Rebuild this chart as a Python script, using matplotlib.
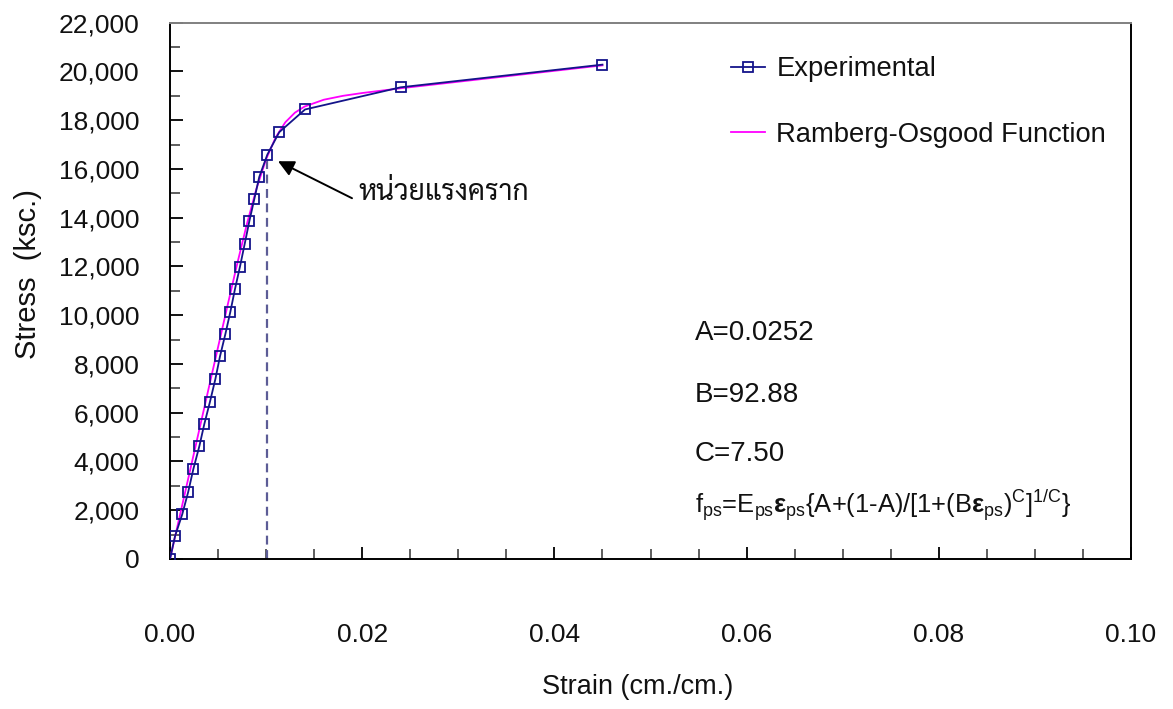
import matplotlib
matplotlib.use("Agg")
import matplotlib.pyplot as plt
from matplotlib.ticker import MultipleLocator, FuncFormatter
import logging
logging.getLogger('matplotlib.font_manager').setLevel(logging.ERROR)

# ---------------- data ----------------
exp_strain = [0.0, 0.00052, 0.00128, 0.0019, 0.00243, 0.00305, 0.00357, 0.00416,
              0.00472, 0.0052, 0.00576, 0.00628, 0.00676, 0.00728, 0.00777,
              0.00825, 0.00877, 0.00929, 0.01013, 0.01137, 0.01405, 0.0240, 0.0450]
exp_stress = [0, 930, 1840, 2760, 3690, 4620, 5535, 6450, 7380, 8310, 9225, 10140,
              11070, 11990, 12920, 13845, 14760, 15675, 16590, 17510, 18440, 19350, 20280]

ro_strain = [0.0, 0.002, 0.004, 0.006, 0.007, 0.008, 0.009, 0.010, 0.011, 0.012,
             0.013, 0.014, 0.016, 0.018, 0.020, 0.024, 0.045]
ro_stress = [0, 3480, 6960, 10420, 12120, 13740, 15195, 16400, 17300, 17915,
             18310, 18560, 18840, 19000, 19115, 19310, 20250]

yield_strain = 0.0101
yield_stress = 16590

param_labels = ["A=0.0252", "B=92.88", "C=7.50"]
formula = (r"f$_{\mathrm{ps}}$=E$_{\mathrm{ps}}$$\mathbf{\varepsilon}$$_{\mathrm{ps}}$"
           r"{A+(1-A)/[1+(B$\mathbf{\varepsilon}$$_{\mathrm{ps}}$)$^{\mathrm{C}}$]$^{\mathrm{1/C}}$}")

xticks = [0.00, 0.02, 0.04, 0.06, 0.08, 0.10]
yticks = list(range(0, 22001, 2000))

# ---------------- style ----------------
plt.rcParams['font.family'] = ['Liberation Sans', 'DejaVu Sans']
plt.rcParams['mathtext.fontset'] = 'custom'
plt.rcParams['mathtext.rm'] = 'Liberation Sans'
plt.rcParams['mathtext.it'] = 'Liberation Sans:italic'
plt.rcParams['mathtext.bf'] = 'Liberation Sans:bold'
thai_family = ['Sarabun', 'Noto Sans Thai', 'Anuphan', 'DejaVu Sans']
txt = '#111111'

fig = plt.figure(figsize=(11.73, 7.09), dpi=100)
ax = fig.add_axes([170/1173, 1-559/709, (1131-170)/1173, (559-22.7)/709])

navy = '#14148a'
mag = '#ff00ff'
ax.plot(ro_strain, ro_stress, color=mag, lw=1.3, label='Ramberg-Osgood Function', zorder=3)
ax.plot(exp_strain, exp_stress, color=navy, lw=1.3, marker='s', markersize=6.8,
        markerfacecolor='none', markeredgecolor=navy, markeredgewidth=1.3,
        label='Experimental', zorder=4)

ax.plot([yield_strain, yield_strain], [0, yield_stress], color='#5c5c96',
        lw=1.6, ls=(0, (4, 2.5)), zorder=2)

ax.text(0.01956, 15050, "หน่วยแรงคราก", family=thai_family, fontsize=20.4,
        color=txt, va='center', ha='left')
ax.annotate("", xy=(0.01124, 16318), xytext=(0.01894, 14800),
            arrowprops=dict(arrowstyle='-|>', color='black', lw=1.4,
                            mutation_scale=24, shrinkA=0, shrinkB=0))

ax.set_xlim(0, 0.10)
ax.set_ylim(0, 22000)
ax.set_xticks(xticks)
ax.xaxis.set_minor_locator(MultipleLocator(0.005))
ax.set_yticks(yticks)
ax.yaxis.set_minor_locator(MultipleLocator(1000))
ax.xaxis.set_major_formatter(FuncFormatter(lambda v, p: f"{v:.2f}"))
ax.yaxis.set_major_formatter(FuncFormatter(lambda v, p: f"{int(v):,}"))
ax.tick_params(axis='both', which='major', direction='in', length=9, width=1.3,
               color='black', labelcolor=txt)
ax.tick_params(axis='both', which='minor', direction='in', length=7, width=1.1, color='#333333')
ax.tick_params(axis='x', which='major', pad=46, labelsize=19)
ax.tick_params(axis='y', which='major', pad=22, labelsize=19)

for s in ['left', 'bottom', 'right']:
    ax.spines[s].set_color('black')
    ax.spines[s].set_linewidth(1.4)
ax.spines['top'].set_color('#808080')
ax.spines['top'].set_linewidth(1.4)

ax.set_xlabel("Strain (cm./cm.)", fontsize=19.5, color=txt)
ax.xaxis.set_label_coords(0.487, -0.215)
ax.set_ylabel("Stress  (ksc.)", fontsize=21, color=txt)
ax.yaxis.set_label_coords(-0.133, 0.531)

for i, (t, yv) in enumerate(zip(param_labels, [9270, 6720, 4300])):
    ax.text(0.0546, yv, t, fontsize=20, color=txt, ha='left', va='center')
ax.text(0.0546, 2210, formula, fontsize=18.4, color=txt, ha='left', va='center')

h, l = ax.get_legend_handles_labels()
leg = ax.legend(h[::-1], l[::-1], loc='upper left', bbox_to_anchor=(0.572, 0.958),
                frameon=False, fontsize=19.7, handlelength=1.27, handletextpad=0.4,
                labelspacing=1.44, borderaxespad=0)
for t in leg.get_texts():
    t.set_color(txt)

fig.savefig("out.png", dpi=100)
